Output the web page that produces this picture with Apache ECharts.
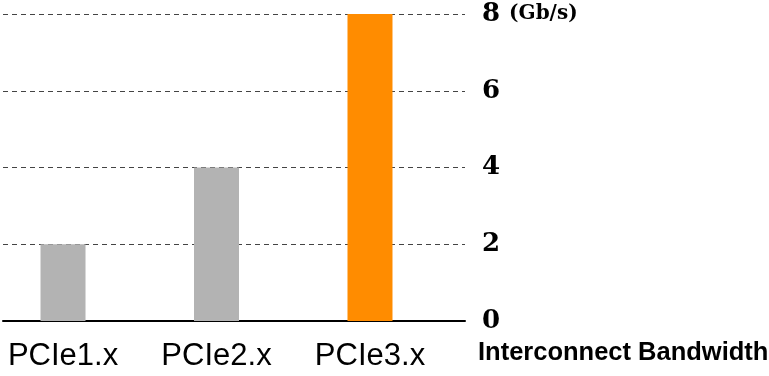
<!DOCTYPE html>
<html>
<head>
<meta charset="utf-8">
<script src="https://cdn.jsdelivr.net/npm/echarts@6/dist/echarts.min.js"></script>
<style>
  html, body { margin: 0; padding: 0; background: #fff; }
  #chart { width: 769px; height: 376px; }
</style>
</head>
<body>
<div id="chart"></div>
<script>
// 数据
const categories = ['PCIe1.x', 'PCIe2.x', 'PCIe3.x'];
const bandwidth = [2, 4, 8];
const barColors = ['#b3b3b3', '#b3b3b3', '#ff8c00'];
const yTicks = [0, 2, 4, 6, 8];

let myChart = echarts.init(document.getElementById('chart'));
const option = {
  animation: false,
  grid: { left: 3, right: 304, top: 14, bottom: 55 },
  xAxis: {
    type: 'value',
    min: 0.609,
    max: 3.619,
    axisLine: { show: true, lineStyle: { color: '#000', width: 2 } },
    axisTick: { show: false },
    splitLine: { show: false },
    axisLabel: {
      customValues: [1, 2, 3],
      formatter: v => categories[v - 1],
      fontFamily: 'Liberation Sans',
      fontSize: 31,
      color: '#000',
      margin: 20
    }
  },
  yAxis: {
    type: 'value',
    position: 'right',
    min: 0,
    max: 8,
    interval: 2,
    axisLine: { show: false },
    axisTick: { show: false },
    splitLine: { lineStyle: { color: '#444', type: [5, 4], width: 1 } },
    axisLabel: {
      margin: 17,
      formatter: v => (v === yTicks[yTicks.length - 1] ? '{n|' + v + '}{u|(Gb/s)}' : '{n|' + v + '}'),
      rich: {
        n: { fontFamily: 'DejaVu Serif', fontWeight: 'bold', fontSize: 26, color: '#000' },
        u: { fontFamily: 'DejaVu Serif', fontWeight: 'bold', fontSize: 20, color: '#000', padding: [0, 0, 0, 9] }
      }
    }
  },
  graphic: [
    {
      type: 'text',
      left: 478,
      top: 340,
      style: {
        text: 'Interconnect Bandwidth',
        fontFamily: 'Liberation Sans',
        fontWeight: 'bold',
        fontSize: 25.5,
        fill: '#000'
      }
    }
  ],
  series: [
    {
      type: 'bar',
      barWidth: 45,
      data: bandwidth.map((v, i) => ({
        value: [i + 1, v],
        itemStyle: { color: barColors[i] }
      }))
    }
  ]
};
myChart.setOption(option);
</script>
</body>
</html>
